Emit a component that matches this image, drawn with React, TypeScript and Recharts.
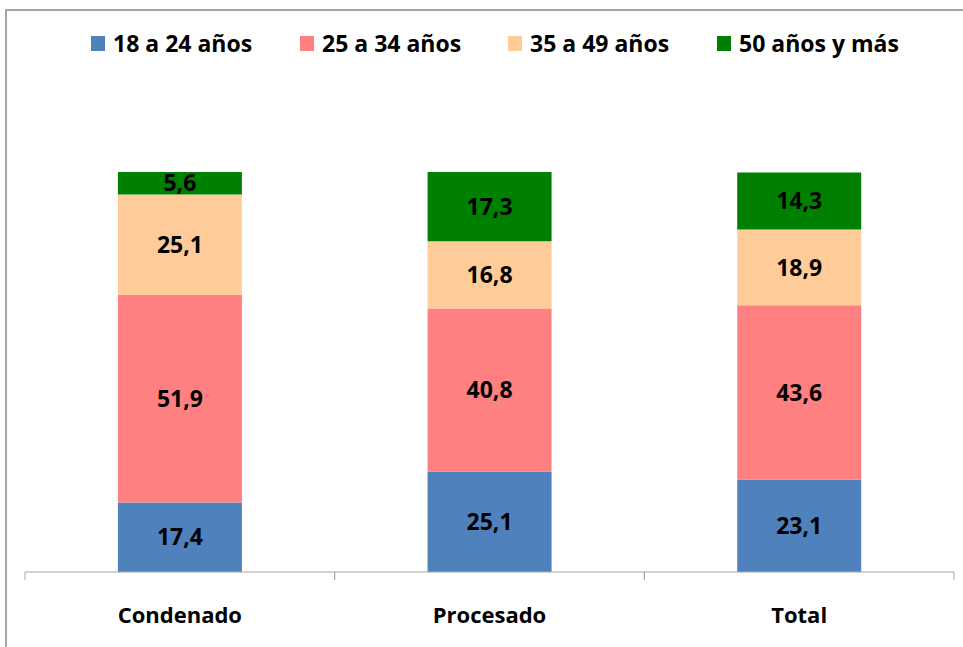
import React from "react";
import { BarChart, Bar, XAxis, YAxis, LabelList } from "recharts";

const categories = ["Condenado", "Procesado", "Total"];
const age18to24 = [17.4, 25.1, 23.1];
const age25to34 = [51.9, 40.8, 43.6];
const age35to49 = [25.1, 16.8, 18.9];
const age50plus = [5.6, 17.3, 14.3];

const series = [
  { key: "a", name: "18 a 24 años", values: age18to24, color: "#4F81BD" },
  { key: "b", name: "25 a 34 años", values: age25to34, color: "#FF8080" },
  { key: "c", name: "35 a 49 años", values: age35to49, color: "#FFCC99" },
  { key: "d", name: "50 años y más", values: age50plus, color: "#008000" },
];

const data = categories.map((cat, i) => {
  const row: any = { cat };
  series.forEach((s) => (row[s.key] = s.values[i]));
  return row;
});

const W = 963;
const H = 647;
const margin = { top: 172, right: 9, left: 25, bottom: 15 };
const band = (W - margin.left - margin.right) / categories.length;
const font = "'Open Sans', sans-serif";
const grey = "#A6A6A6";

const fmt = (v: any) => Number(v).toFixed(1).replace(".", ",");

function CategoryTick(props: any) {
  const { x, y, payload } = props;
  return (
    <g>
      <line x1={x - band / 2} x2={x - band / 2} y1={y} y2={y + 8} stroke={grey} />
      <line x1={x + band / 2} x2={x + band / 2} y1={y} y2={y + 8} stroke={grey} />
      <text
        x={x}
        y={y + 42}
        textAnchor="middle"
        dominantBaseline="central"
        fontFamily={font}
        fontWeight="bold"
        fontSize={22}
        fill="#000"
      >
        {payload.value}
      </text>
    </g>
  );
}

const legendStarts = [91, 300, 508, 717];

export default function App() {
  return (
    <div style={{ position: "absolute", left: 0, top: 0, width: W, height: H, background: "#fff" }}>
      <div
        style={{
          position: "absolute",
          left: 5,
          top: 9,
          width: W,
          height: H,
          borderLeft: `2px solid ${grey}`,
          borderTop: `2px solid ${grey}`,
        }}
      />
      {series.map((s, i) => (
        <div
          key={s.key}
          style={{
            position: "absolute",
            left: legendStarts[i],
            top: 28,
            height: 30,
            display: "flex",
            alignItems: "center",
            fontFamily: font,
            fontWeight: "bold",
            fontSize: 23,
            color: "#000",
            whiteSpace: "nowrap",
          }}
        >
          <span style={{ display: "inline-block", width: 14, height: 15, background: s.color, marginRight: 8 }} />
          {s.name}
        </div>
      ))}
      <div style={{ position: "absolute", left: 0, top: 0 }}>
        <BarChart width={W} height={H} data={data} margin={margin} barCategoryGap="30%">
          <XAxis
            dataKey="cat"
            height={60}
            axisLine={{ stroke: grey }}
            tickLine={false}
            tickSize={0}
            tickMargin={0}
            tick={<CategoryTick />}
            interval={0}
          />
          <YAxis hide domain={[0, 100]} allowDataOverflow />
          {series.map((s) => (
            <Bar key={s.key} dataKey={s.key} name={s.name} stackId="s" fill={s.color} isAnimationActive={false}>
              <LabelList
                dataKey={s.key}
                position="center"
                formatter={fmt}
                fill="#000"
                fontFamily={font}
                fontWeight="bold"
                fontSize={23}
              />
            </Bar>
          ))}
        </BarChart>
      </div>
    </div>
  );
}
